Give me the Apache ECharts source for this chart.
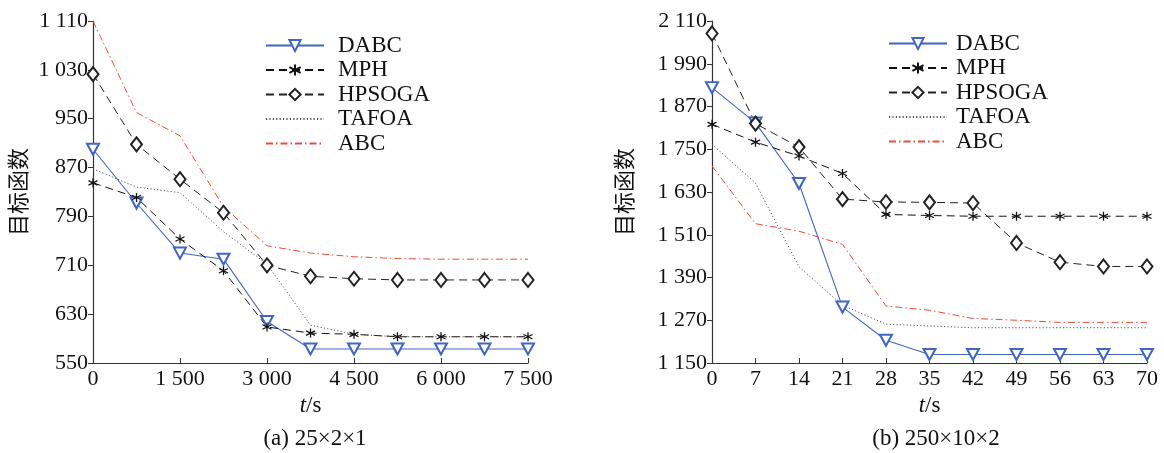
<!DOCTYPE html>
<html>
<head>
<meta charset="utf-8">
<script src="https://cdn.jsdelivr.net/npm/echarts@6/dist/echarts.min.js"></script>
<style>
  html, body { margin: 0; padding: 0; background: #fff; }
  #main { width: 1164px; height: 453px; }
</style>
</head>
<body>
<div id="main"></div>
<script>
// 数据 (a) 25×2×1
var leftX = [0, 750, 1500, 2250, 3000, 3750, 4500, 5250, 6000, 6750, 7500];
var leftDABC = [900, 812, 730, 720, 618, 573, 573, 573, 573, 573, 573];
var leftMPH = [845, 821, 753, 701, 609, 599, 597, 593, 593, 593, 593];
var leftHPSOGA = [1023, 908, 851, 796, 710, 692, 688, 686, 686, 686, 686];
var leftTAFOA = [868, 838, 829, 765, 712, 612, 597, 593, 593, 593, 593];
var leftABC = [1110, 960, 922, 806, 742, 730, 724, 721, 720, 720, 720];
var leftYTicks = [550, 630, 710, 790, 870, 950, 1030, 1110];

// 数据 (b) 250×10×2
var rightX = [0, 7, 14, 21, 28, 35, 42, 49, 56, 63, 70];
var rightDABC = [1923, 1824, 1654, 1307, 1214, 1174, 1174, 1174, 1174, 1174, 1174];
var rightMPH = [1820, 1770, 1731, 1682, 1567, 1564, 1562, 1562, 1562, 1562, 1562];
var rightHPSOGA = [2075, 1822, 1756, 1610, 1602, 1601, 1599, 1487, 1433, 1421, 1421];
var rightTAFOA = [1764, 1655, 1420, 1312, 1259, 1254, 1249, 1249, 1249, 1249, 1249];
var rightABC = [1703, 1541, 1520, 1483, 1310, 1298, 1275, 1270, 1264, 1264, 1264];
var rightYTicks = [1150, 1270, 1390, 1510, 1630, 1750, 1870, 1990, 2110];

var names = ['DABC', 'MPH', 'HPSOGA', 'TAFOA', 'ABC'];
var FONT = '"Liberation Serif", "Times New Roman", serif';
var TXT = '#111';
var BLUE = '#4165c6';
var RED = '#ef4a3a';
var NONE = 'rgba(0,0,0,0)';
var STAR = 'path://M0,-10L0,10M-8.66,-5L8.66,5M-8.66,5L8.66,-5';

// 千位加空格
function fmt(v) {
  var s = String(v);
  if (v >= 1000) s = s.slice(0, s.length - 3) + ' ' + s.slice(-3);
  return s;
}
function zip(xs, ys) {
  return xs.map(function (x, i) { return [x, ys[i]]; });
}

function makeSeries(idx, xs, d) {
  return [{
    name: 'DABC', type: 'line', xAxisIndex: idx, yAxisIndex: idx,
    data: zip(xs, d[0]),
    symbol: 'emptyTriangle', symbolRotate: 180, symbolSize: [12, 11],
    lineStyle: { color: BLUE, width: 1.1 },
    itemStyle: { color: BLUE, borderColor: BLUE, borderWidth: 1 }
  }, {
    name: 'MPH', type: 'line', xAxisIndex: idx, yAxisIndex: idx,
    data: zip(xs, d[1]),
    symbol: STAR, symbolSize: 9,
    lineStyle: { color: '#111', width: 1, type: [8, 5] },
    itemStyle: { color: '#111', borderColor: '#111', borderWidth: 1.3 }
  }, {
    name: 'HPSOGA', type: 'line', xAxisIndex: idx, yAxisIndex: idx,
    data: zip(xs, d[2]),
    symbol: 'emptyDiamond', symbolSize: [11, 14],
    lineStyle: { color: '#222', width: 1, type: [8, 5] },
    itemStyle: { color: '#222', borderColor: '#222', borderWidth: 1 }
  }, {
    name: 'TAFOA', type: 'line', xAxisIndex: idx, yAxisIndex: idx,
    data: zip(xs, d[3]),
    symbol: 'none',
    lineStyle: { color: '#555', width: 1, type: [1.2, 2.2] },
    itemStyle: { color: NONE, borderColor: NONE }
  }, {
    name: 'ABC', type: 'line', xAxisIndex: idx, yAxisIndex: idx,
    data: zip(xs, d[4]),
    symbol: 'none',
    lineStyle: { color: RED, width: 1, type: [7, 3, 1.5, 3] },
    itemStyle: { color: NONE, borderColor: NONE }
  }];
}

function xAxisOf(idx, max, interval) {
  return {
    gridIndex: idx, type: 'value', min: 0, max: max, interval: interval,
    name: '{i|t}/s', nameLocation: 'middle', nameGap: 31,
    nameTextStyle: {
      fontFamily: FONT, fontSize: 23, color: TXT,
      rich: { i: { fontStyle: 'italic', fontFamily: FONT, fontSize: 23, color: TXT } }
    },
    axisLine: { lineStyle: { color: '#333', width: 1.2 } },
    axisTick: { inside: true, length: 5, lineStyle: { color: '#333' } },
    axisLabel: { fontFamily: FONT, fontSize: 22, color: TXT, margin: 5, formatter: fmt },
    splitLine: { show: false }
  };
}

function yAxisOf(idx, ticks, gap) {
  return {
    gridIndex: idx, type: 'value', min: ticks[0], max: ticks[ticks.length - 1],
    name: '目标函数', nameLocation: 'middle', nameGap: gap,
    nameTextStyle: { fontFamily: '"Noto Sans CJK SC", sans-serif', fontSize: 22, color: TXT },
    axisLine: { show: true, lineStyle: { color: '#333', width: 1.2 } },
    axisTick: { show: true, length: 5, customValues: ticks, lineStyle: { color: '#333' } },
    axisLabel: { fontFamily: FONT, fontSize: 22, color: TXT, margin: 5, customValues: ticks, formatter: fmt },
    splitLine: { show: false }
  };
}

function legendOf(left, top, textPad) {
  return {
    orient: 'vertical', left: left, top: top, padding: 0,
    data: names, itemWidth: 58, itemHeight: 14, itemGap: 1.5,
    selectedMode: false,
    textStyle: { fontFamily: FONT, fontSize: 23, lineHeight: 23, color: TXT, padding: [0, 0, 0, textPad] }
  };
}

var chart = echarts.init(document.getElementById('main'), null, { renderer: 'canvas' });
chart.setOption({
  backgroundColor: '#fff',
  animation: false,
  title: [{
    text: '(a) 25×2×1', left: 310, top: 422, textAlign: 'center',
    textStyle: { fontFamily: FONT, fontSize: 23, fontWeight: 'normal', color: TXT }
  }, {
    text: '(b) 250×10×2', left: 931, top: 422, textAlign: 'center',
    textStyle: { fontFamily: FONT, fontSize: 23, fontWeight: 'normal', color: TXT }
  }],
  legend: [legendOf(265, 34, 9), legendOf(888, 32, 4)],
  grid: [
    { left: 93, top: 21, width: 435, height: 342, containLabel: false },
    { left: 712, top: 21, width: 435, height: 342, containLabel: false }
  ],
  xAxis: [xAxisOf(0, 7500, 1500), xAxisOf(1, 70, 7)],
  yAxis: [yAxisOf(0, leftYTicks, 64), yAxisOf(1, rightYTicks, 77)],
  series: makeSeries(0, leftX, [leftDABC, leftMPH, leftHPSOGA, leftTAFOA, leftABC])
    .concat(makeSeries(1, rightX, [rightDABC, rightMPH, rightHPSOGA, rightTAFOA, rightABC]))
});
</script>
</body>
</html>
